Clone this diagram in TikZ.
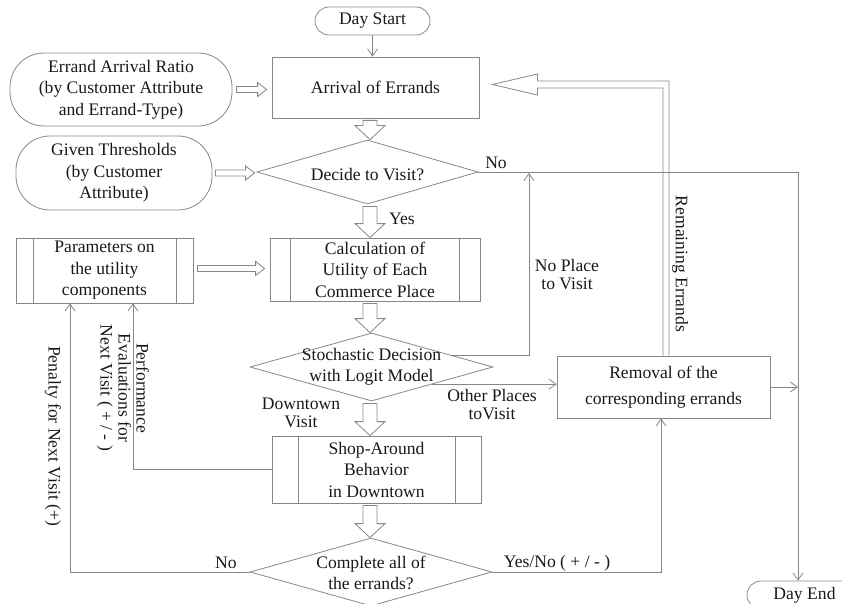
\documentclass[tikz,border=0pt]{standalone}
\usepackage{fontspec}
\setmainfont{Liberation Serif}
\usetikzlibrary{shapes.geometric,arrows.meta,calc}
\definecolor{ln}{RGB}{135,135,135}
\definecolor{tx}{RGB}{25,25,25}
\tikzset{
  every node/.style={text=tx, font=\fontsize{17.6pt}{21.5pt}\selectfont},
  conn/.style={draw=ln, line width=0.8pt},
  arr/.style={conn, -{Straight Barb[length=7pt,width=10pt]}},
  box/.style={draw=ln, line width=0.8pt, rectangle, inner sep=0pt, align=center},
  term/.style={box, rounded corners=#1},
  proc/.style={box, path picture={
     \draw[conn] ([xshift=#1]path picture bounding box.north west) -- ([xshift=#1]path picture bounding box.south west);
     \draw[conn] ([xshift=-#1]path picture bounding box.north east) -- ([xshift=-#1]path picture bounding box.south east);}},
  dia/.style={draw=ln, line width=0.8pt, diamond, inner sep=0pt},
  lab/.style={inner sep=0pt, align=center, font=\fontsize{17.6pt}{18pt}\selectfont},
  dlab/.style={inner sep=0pt, align=center, font=\fontsize{17.6pt}{20.5pt}\selectfont},
}
\newcommand\hollowR[2]{%
  \draw[conn] let \p1=(#1), \p2=(#2) in
    (\x1,\y1+3pt) -- (\x2-9pt,\y1+3pt) -- (\x2-9pt,\y1+7pt) -- (\x2,\y1) --
    (\x2-9pt,\y1-7pt) -- (\x2-9pt,\y1-3pt) -- (\x1,\y1-3pt) -- cycle;}
\newcommand\blockD[2]{%
  \draw[conn] let \p1=(#1.south), \p2=(#2.north), \p3=(spine) in
    (\x3-7pt,\y1-2pt) -- (\x3+7pt,\y1-2pt) -- (\x3+7pt,\y2+14pt) -- (\x3+15pt,\y2+14pt) --
    (\x3,\y2) -- (\x3-15pt,\y2+14pt) -- (\x3-7pt,\y2+14pt) -- cycle;}
\begin{document}
\begin{tikzpicture}[x=1pt,y=-1pt]
\useasboundingbox (0,0) rectangle (842,604);
\clip (0,0) rectangle (842,604);
\coordinate (spine) at (370,0);

% nodes
\node[term=14pt, minimum width=115pt, minimum height=28pt] (start) at (372.5,21) {Day Start};
\node[box, minimum width=207pt, minimum height=61pt] (arrival) at (375.5,87.5) {Arrival of Errands};
\node[term=34pt, minimum width=222pt, minimum height=73pt] (ratio) at (121,89.5) {Errand Arrival Ratio\\(by Customer Attribute\\and Errand-Type)};
\node[dia, minimum width=221pt, minimum height=64pt,
      label={[dlab,yshift=-3pt]center:Decide to Visit?}] (decide) at (367.5,172) {};
\node[term=34pt, minimum width=196pt, minimum height=74pt] (thr) at (114,173) {Given Thresholds\\(by Customer\\Attribute)};
\node[proc=17pt, minimum width=177pt, minimum height=65pt] (params) at (104.5,270.5) {Parameters on\\the utility\\components};
\node[proc=20.5pt, minimum width=210pt, minimum height=63pt] (calc) at (375,269.5) {Calculation of\\Utility of Each\\Commerce Place};
\node[dia, minimum width=243pt, minimum height=68pt,
      label={[dlab]center:Stochastic Decision\\with Logit Model}] (stoch) at (371.5,367) {};
\node[box, minimum width=213pt, minimum height=62pt] (removal) at (663.5,387) {Removal of the\\[4pt]corresponding errands};
\node[proc=26pt, minimum width=209pt, minimum height=67pt] (shop) at (376.5,469.5) {Shop-Around\\Behavior\\in Downtown};
\node[dia, minimum width=242pt, minimum height=68pt,
      label={[dlab,yshift=-1pt]center:Complete all of\\the errands?}] (complete) at (371,572) {};
\node[term=14pt, minimum width=115pt, minimum height=28pt] (end) at (804.5,595) {Day End};

% labels
\node[lab] (lno1) at (496,163) {No};
\node[lab] (lyes) at (402,219) {Yes};
\node[lab] (lnp) at (567,275) {No Place\\to Visit};
\node[lab] (lop) at (492,405) {Other Places\\toVisit};
\node[lab] (ldt) at (301,413) {Downtown\\Visit};
\node[lab] (lno2) at (226,563) {No};
\node[lab] (lyn) at (557,563) {Yes/No ( + / - )};
\node[lab, rotate=-90] (lre) at (680,264) {Remaining Errands};
\node[lab, rotate=-90] (lpe) at (123,388) {Performance\\Evaluations for\\Next Visit ( + / - )};
\node[lab, rotate=-90] (lpn) at (53,436) {Penalty for Next Visit (+)};

% hollow horizontal arrows
\hollowR{$(ratio.east)+(4,0)$}{$(arrival.west)+(-5,0)$}
\hollowR{$(thr.east)+(3,0)$}{$(decide.west)+(-2,0)$}
\hollowR{$(params.east)+(4,-2)$}{$(calc.west)+(-5,-2)$}

% block arrows down
\blockD{arrival}{decide}
\blockD{decide}{calc}
\blockD{calc}{stoch}
\blockD{stoch}{shop}
\blockD{shop}{complete}

% remaining errands double arrow
\draw[conn] let \p1=(removal.north), \p2=(arrival.east) in
  (\x1-0.5pt,\y1) -- (\x1-0.5pt,\y2-0.5pt) -- (\x2+58pt,\y2-0.5pt) -- (\x2+58pt,\y2-7.5pt) --
  (\x2+13pt,\y2+3pt) -- (\x2+58pt,\y2+13.5pt) -- (\x2+58pt,\y2+6.5pt) -- (\x1+5.5pt,\y2+6.5pt) -- (\x1+5.5pt,\y1);

% thin connectors
\coordinate (dn) at (798,172);
\coordinate (np) at (529,173);
\coordinate (pfx) at (133,0);
\coordinate (pnx) at (70,0);
\coordinate (ynx) at (661,0);
\coordinate (nop) at ($(stoch.north)!0.65!(stoch.east)$);
\coordinate (op) at ($(stoch.east)!0.5!(stoch.south)$);
\draw[arr] (start.south) -- (start.south |- arrival.north);
\draw[arr] (decide.east) -- (dn) -- (dn |- end.north);
\draw[arr] (removal.east) -- (removal.east -| dn);
\draw[arr] (nop) -| (np);
\draw[arr] (op) -- (op -| removal.west);
\draw[arr] (shop.west) -| (pfx |- params.south);
\draw[arr] (complete.west) -| (pnx |- params.south);
\draw[arr] (complete.east) -| (ynx |- removal.south);
\end{tikzpicture}
\end{document}
